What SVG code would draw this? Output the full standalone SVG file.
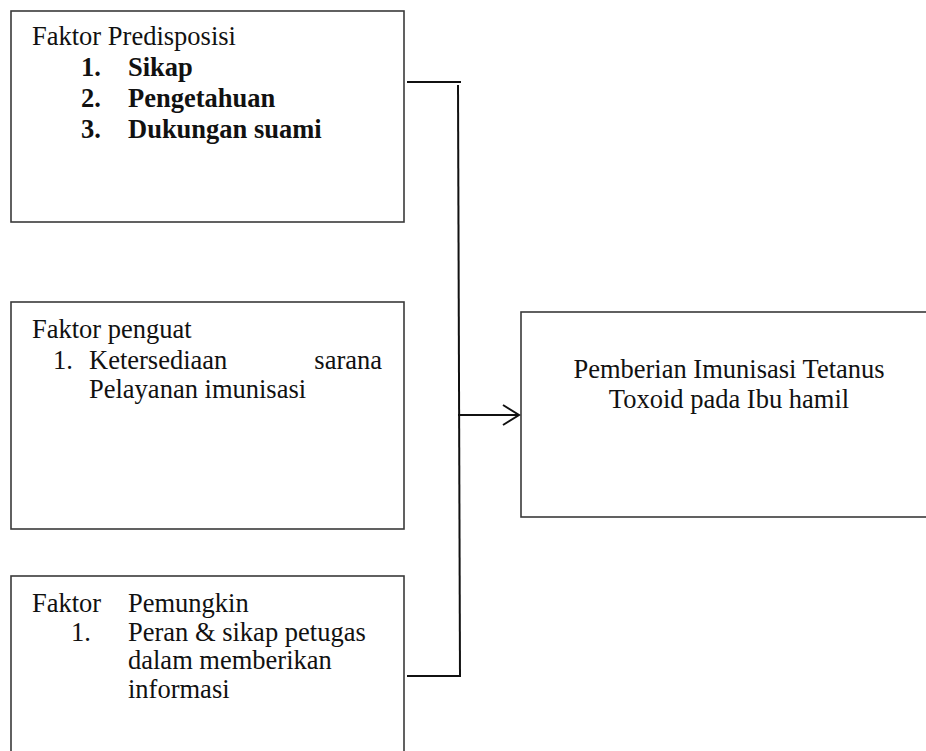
<svg xmlns="http://www.w3.org/2000/svg" width="926" height="751" viewBox="0 0 926 751">
  <style>
    .box { fill: #ffffff; stroke: #3a3a3a; stroke-width: 1.6; }
    .txt { font-family: "Liberation Serif", "Times New Roman", serif; font-size: 26.5px; fill: #111111; }
    .b { font-weight: bold; }
    .wire { fill: none; stroke: #111111; stroke-width: 2; }
  </style>
  <rect width="926" height="751" fill="#ffffff"/>

  <g id="predisposisi">
    <rect class="box" x="11" y="11" width="393" height="211"/>
    <text class="txt" x="32" y="45">Faktor Predisposisi</text>
    <text class="txt b" x="81" y="76">1.</text>
    <text class="txt b" x="128" y="76">Sikap</text>
    <text class="txt b" x="81" y="107">2.</text>
    <text class="txt b" x="128" y="107">Pengetahuan</text>
    <text class="txt b" x="81" y="138">3.</text>
    <text class="txt b" x="128" y="138">Dukungan suami</text>
  </g>

  <g id="penguat">
    <rect class="box" x="11" y="302" width="393" height="227"/>
    <text class="txt" x="32" y="338">Faktor penguat</text>
    <text class="txt" x="53" y="369">1.</text>
    <text class="txt" x="89" y="369">Ketersediaan</text>
    <text class="txt" x="382" y="369" text-anchor="end">sarana</text>
    <text class="txt" x="89" y="398">Pelayanan imunisasi</text>
  </g>

  <g id="pemungkin">
    <rect class="box" x="11" y="576" width="393" height="200"/>
    <text class="txt" x="32" y="612">Faktor</text>
    <text class="txt" x="128" y="612">Pemungkin</text>
    <text class="txt" x="71" y="641">1.</text>
    <text class="txt" x="128" y="641">Peran &amp; sikap petugas</text>
    <text class="txt" x="128" y="669">dalam memberikan</text>
    <text class="txt" x="128" y="698">informasi</text>
  </g>

  <g id="pemberian">
    <rect class="box" x="521" y="312" width="420" height="205"/>
    <text class="txt" x="729" y="378" text-anchor="middle">Pemberian Imunisasi Tetanus</text>
    <text class="txt" x="729" y="408" text-anchor="middle">Toxoid pada Ibu hamil</text>
  </g>

  <g id="connectors">
    <line class="wire" x1="407" y1="82" x2="461" y2="82"/>
    <line class="wire" x1="458" y1="85" x2="460" y2="676"/>
    <line class="wire" x1="407" y1="676" x2="461" y2="676"/>
    <line class="wire" x1="458" y1="415" x2="519" y2="415"/>
    <polyline class="wire" points="503,405 519,415 503,425"/>
  </g>
</svg>
